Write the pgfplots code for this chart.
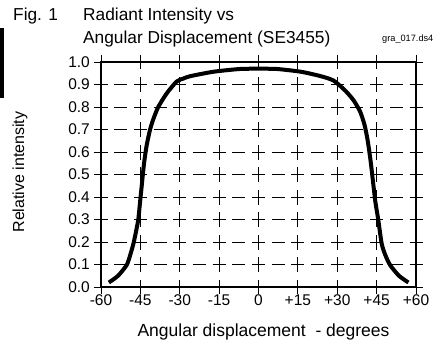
\documentclass[border=0pt]{standalone}
\usepackage{pgfplots}
\pgfplotsset{compat=1.18}
\usepackage{fontspec}
\setmainfont{Liberation Sans}
\pgfplotstableread{
x y
-57 0.02
-53.5 0.05
-50.2 0.098
-48.8 0.145
-47.6 0.195
-46.6 0.25
-45.8 0.30
-45.1 0.38
-44.4 0.46
-43.6 0.55
-42.6 0.63
-41.3 0.70
-40.1 0.745
-38.2 0.80
-35 0.86
-31.2 0.913
-28.5 0.927
-26 0.937
-17 0.957
-7 0.969
0 0.97
7 0.969
16 0.957
22 0.942
25.8 0.93
28.5 0.918
31 0.895
33.6 0.866
36.2 0.83
38.7 0.78
40.4 0.72
41.6 0.65
42.7 0.56
43.6 0.47
44.5 0.38
45.6 0.30
46.9 0.194
48.2 0.145
50.1 0.098
53.5 0.05
57.1 0.02
}\curve
\begin{document}
\begin{tikzpicture}[x=1bp,y=1bp]
\path[use as bounding box] (0,0) rectangle (443,347);
\fill[black] (0,249) rectangle (3.5,319);
\begin{axis}[
  at={(101bp,60bp)}, anchor=south west,
  scale only axis, width=315bp, height=225bp,
  xmin=-60, xmax=60, ymin=0, ymax=1,
  xtick={-60,-45,-30,-15,0,15,30,45,60},
  xticklabels={-60,-45,-30,-15,0,+15,+30,+45,+60},
  ytick={0,0.1,0.2,0.3,0.4,0.5,0.6,0.7,0.8,0.9,1},
  yticklabels={0.0,0.1,0.2,0.3,0.4,0.5,0.6,0.7,0.8,0.9,1.0},
  tick align=outside, major tick length=7bp,
  tick style={black, line width=0.9bp},
  axis line style={line width=1.8bp},
  grid=major,
  major x grid style={black, line width=0.9bp, dash pattern=on 15bp off 7.5bp, dash phase=7.5bp},
  major y grid style={black, line width=0.9bp, dash pattern=on 13bp off 6.6875bp, dash phase=6.5bp},
  ticklabel style={font=\fontsize{15.5bp}{18bp}\selectfont, inner sep=0pt},
  xticklabel style={anchor=base, yshift=-11bp},
  yticklabel style={anchor=east, xshift=-4bp},
]
\addplot[black, line width=4bp, smooth, tension=0.4] table[x=x,y=y]{\curve};
\end{axis}
\node[inner sep=0pt, anchor=base west, font=\fontsize{17.3bp}{20bp}\selectfont] at (13,326.3) {Fig. 1};
\node[inner sep=0pt, anchor=base west, font=\fontsize{17.3bp}{20bp}\selectfont] at (83,326.3) {Radiant Intensity vs};
\node[inner sep=0pt, anchor=base west, font=\fontsize{17.3bp}{20bp}\selectfont] at (83,304) {Angular Displacement (SE3455)};
\node[inner sep=0pt, anchor=base west, font=\fontsize{9.2bp}{11bp}\selectfont] at (382,306) {gra\_017.ds4};
\node[inner sep=0pt, anchor=base, font=\fontsize{17.5bp}{20bp}\selectfont] at (263.5,10.3) {Angular displacement\ \ - degrees};
\node[inner sep=0pt, rotate=90, font=\fontsize{16bp}{19bp}\selectfont] at (20,175) {Relative intensity};
\end{tikzpicture}
\end{document}
